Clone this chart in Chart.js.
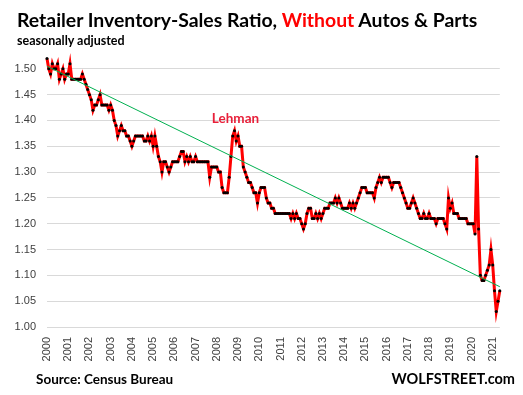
<!DOCTYPE html>
<html>
<head>
<meta charset="utf-8">
<script src="https://cdn.jsdelivr.net/npm/chart.js"></script>
<style>
html, body { margin: 0; padding: 0; background: #fff; }
#wrap { position: relative; width: 523px; height: 395px; font-family: Lato, "Open Sans", sans-serif; }
#wrap canvas { position: absolute; left: 0; top: 0; }
.txt { position: absolute; font-weight: bold; color: #000; white-space: nowrap; line-height: 1; }
</style>
</head>
<body>
<div id="wrap">
  <canvas id="ratioChart" width="523" height="395"></canvas>
  <div class="txt" style="left:17px; top:10px; font-size:19.4px;">Retailer Inventory-Sales Ratio, <span style="color:#ff0000">Without</span> Autos &amp; Parts</div>
  <div class="txt" style="left:17px; top:35px; font-size:12.5px;">seasonally adjusted</div>
  <div class="txt" style="left:36px; top:373px; font-size:13.5px;">Source: Census Bureau</div>
  <div class="txt" style="right:8px; top:372px; font-size:14.5px;">WOLFSTREET.com</div>
</div>
<script>
// years on the x axis, one row of monthly ratios per year (2021: Jan-May)
var years = [2000, 2001, 2002, 2003, 2004, 2005, 2006, 2007, 2008, 2009, 2010,
             2011, 2012, 2013, 2014, 2015, 2016, 2017, 2018, 2019, 2020, 2021];
var ratioByYear = [
    [1.52, 1.50, 1.49, 1.51, 1.50, 1.50, 1.51, 1.48, 1.49, 1.50, 1.48, 1.49],
    [1.49, 1.51, 1.48, 1.48, 1.48, 1.48, 1.48, 1.48, 1.49, 1.48, 1.47, 1.46],
    [1.45, 1.44, 1.42, 1.43, 1.43, 1.44, 1.45, 1.43, 1.43, 1.43, 1.43, 1.42],
    [1.43, 1.42, 1.40, 1.39, 1.37, 1.38, 1.39, 1.38, 1.38, 1.37, 1.37, 1.36],
    [1.35, 1.36, 1.37, 1.37, 1.37, 1.37, 1.37, 1.36, 1.36, 1.37, 1.36, 1.37],
    [1.35, 1.37, 1.35, 1.33, 1.32, 1.30, 1.32, 1.32, 1.31, 1.30, 1.31, 1.32],
    [1.32, 1.32, 1.32, 1.33, 1.34, 1.34, 1.32, 1.33, 1.32, 1.33, 1.32, 1.32],
    [1.33, 1.32, 1.32, 1.32, 1.32, 1.32, 1.32, 1.32, 1.29, 1.31, 1.31, 1.31],
    [1.31, 1.30, 1.30, 1.27, 1.26, 1.26, 1.26, 1.29, 1.33, 1.37, 1.38, 1.36],
    [1.37, 1.35, 1.35, 1.31, 1.30, 1.29, 1.28, 1.28, 1.27, 1.26, 1.26, 1.24],
    [1.26, 1.27, 1.27, 1.27, 1.25, 1.24, 1.24, 1.23, 1.23, 1.22, 1.22, 1.22],
    [1.22, 1.22, 1.22, 1.22, 1.22, 1.22, 1.21, 1.22, 1.21, 1.22, 1.21, 1.21],
    [1.20, 1.19, 1.20, 1.22, 1.23, 1.23, 1.21, 1.21, 1.22, 1.21, 1.22, 1.21],
    [1.22, 1.23, 1.23, 1.23, 1.24, 1.24, 1.24, 1.25, 1.24, 1.25, 1.24, 1.23],
    [1.23, 1.23, 1.23, 1.24, 1.23, 1.24, 1.23, 1.24, 1.25, 1.26, 1.27, 1.27],
    [1.27, 1.26, 1.26, 1.26, 1.26, 1.25, 1.27, 1.28, 1.29, 1.28, 1.29, 1.29],
    [1.29, 1.29, 1.28, 1.27, 1.28, 1.28, 1.28, 1.28, 1.27, 1.26, 1.25, 1.24],
    [1.23, 1.23, 1.24, 1.25, 1.24, 1.23, 1.22, 1.21, 1.21, 1.22, 1.21, 1.21],
    [1.22, 1.21, 1.21, 1.21, 1.20, 1.21, 1.21, 1.21, 1.21, 1.20, 1.19, 1.25],
    [1.23, 1.24, 1.22, 1.22, 1.22, 1.21, 1.21, 1.21, 1.21, 1.21, 1.20, 1.20],
    [1.20, 1.20, 1.18, 1.33, 1.19, 1.10, 1.09, 1.09, 1.10, 1.11, 1.12, 1.15],
    [1.12, 1.07, 1.03, 1.05, 1.07]
];
// green trend line, value at first and last month
var trendEnds = [1.505, 1.078];
var yTicks = [1.00, 1.05, 1.10, 1.15, 1.20, 1.25, 1.30, 1.35, 1.40, 1.45, 1.50];
var lehmanNote = { label: 'Lehman', month: '2008-11', value: 1.403 };

var labels = [];
var ratio = [];
years.forEach(function (yr, i) {
    ratioByYear[i].forEach(function (v, m) {
        labels.push(yr + '-' + String(m + 1).padStart(2, '0'));
        ratio.push(v);
    });
});
var trend = ratio.map(function () { return null; });
trend[0] = trendEnds[0];
trend[trend.length - 1] = trendEnds[1];

var notePlugin = {
    id: 'lehmanNote',
    afterDatasetsDraw: function (chart) {
        var c = chart.ctx;
        var x = chart.scales.x.getPixelForValue(labels.indexOf(lehmanNote.month));
        var y = chart.scales.y.getPixelForValue(lehmanNote.value);
        c.save();
        c.font = 'bold 13.5px Lato, sans-serif';
        c.fillStyle = '#e8203a';
        c.textAlign = 'center';
        c.textBaseline = 'middle';
        c.fillText(lehmanNote.label, x + 1, y);
        c.restore();
    }
};

var ctx = document.getElementById('ratioChart').getContext('2d');
var ratioChart = new Chart(ctx, {
    type: 'line',
    data: {
        labels: labels,
        datasets: [{
            label: 'Trend',
            data: trend,
            spanGaps: true,
            borderColor: '#00b050',
            borderWidth: 1,
            pointRadius: 0,
            tension: 0
        }, {
            label: 'Inventory-Sales Ratio',
            data: ratio,
            borderColor: '#ff0000',
            borderWidth: 3,
            pointRadius: 1.5,
            pointBorderWidth: 0,
            pointBackgroundColor: '#000',
            tension: 0
        }]
    },
    options: {
        responsive: false,
        animation: false,
        layout: { padding: { top: 43, right: 3, bottom: 28, left: 0 } },
        plugins: { legend: { display: false }, tooltip: { enabled: false } },
        scales: {
            x: {
                grid: { display: false, drawTicks: false },
                border: { display: false },
                afterFit: function (s) { s.height = 40; },
                ticks: {
                    autoSkip: false,
                    minRotation: 90,
                    maxRotation: 90,
                    padding: 10,
                    color: '#404040',
                    font: { family: 'Liberation Sans', size: 11 },
                    callback: function (v, i) {
                        return labels[i].slice(5) === '01' ? labels[i].slice(0, 4) : '';
                    }
                }
            },
            y: {
                min: 1.00,
                max: 1.55,
                afterFit: function (s) { s.width = 47; },
                afterBuildTicks: function (s) {
                    s.ticks = yTicks.concat([1.55]).map(function (v) { return { value: v }; });
                },
                grid: {
                    drawTicks: false,
                    color: function (c) { return c.tick && c.tick.value > 1.5 ? 'rgba(0,0,0,0)' : '#d9d9d9'; }
                },
                border: { display: false },
                ticks: {
                    padding: 11,
                    color: '#404040',
                    font: { family: 'Liberation Sans', size: 11 },
                    callback: function (v) { return v > 1.5 ? '' : v.toFixed(2); }
                }
            }
        }
    },
    plugins: [notePlugin]
});
</script>
</body>
</html>
